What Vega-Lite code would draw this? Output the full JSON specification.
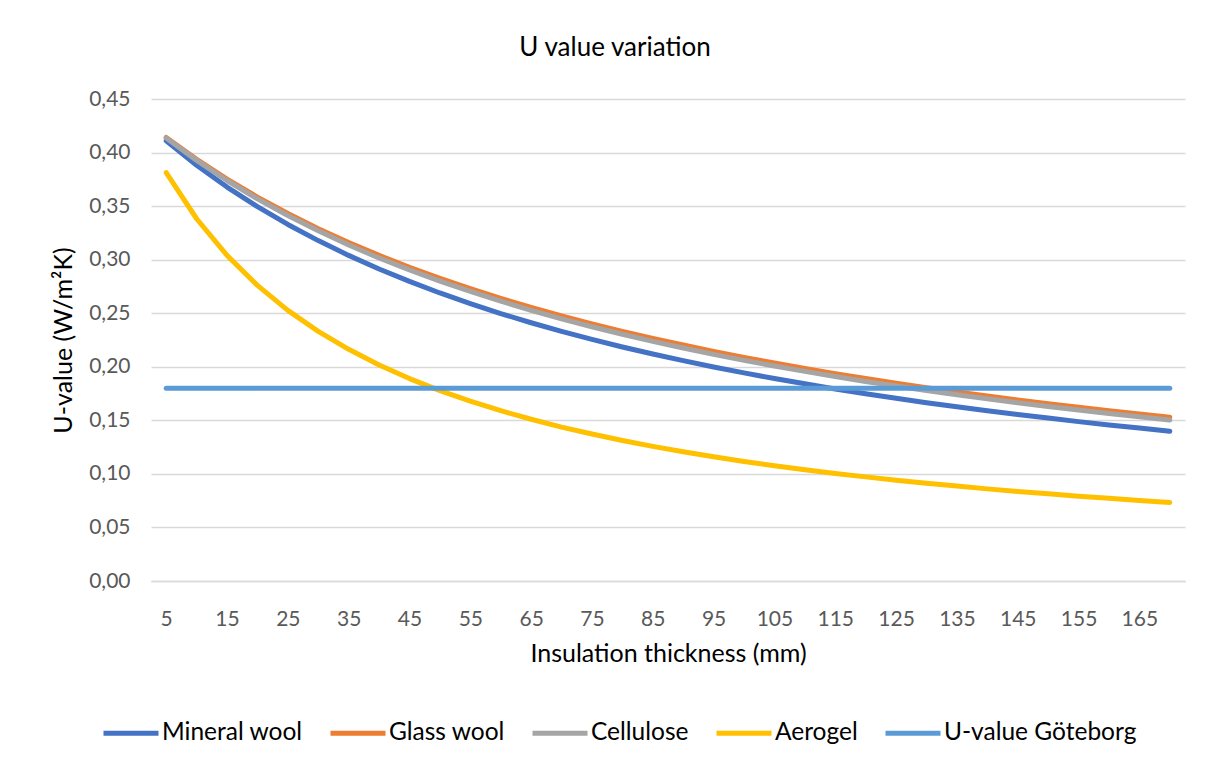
{
  "$schema": "https://vega.github.io/schema/vega-lite/v6.json",
  "width": 1034,
  "height": 482,
  "autosize": {"type": "none"},
  "padding": {"left": 151, "top": 99, "right": 30, "bottom": 179},
  "background": "white",
  "title": {
    "text": "U value variation",
    "font": "Lato",
    "fontSize": 26,
    "fontWeight": "normal",
    "color": "#000000",
    "anchor": "middle",
    "baseline": "alphabetic",
    "offset": 6,
    "dx": -53
  },
  "data": {
    "values": [
      {"t": 5, "Mineral wool": 0.4110, "Glass wool": 0.4141, "Cellulose": 0.4135, "Aerogel": 0.3812, "U-value Göteborg": 0.18},
      {"t": 10, "Mineral wool": 0.3882, "Glass wool": 0.3937, "Cellulose": 0.3927, "Aerogel": 0.3382, "U-value Göteborg": 0.18},
      {"t": 15, "Mineral wool": 0.3678, "Glass wool": 0.3752, "Cellulose": 0.3739, "Aerogel": 0.3040, "U-value Göteborg": 0.18},
      {"t": 20, "Mineral wool": 0.3495, "Glass wool": 0.3584, "Cellulose": 0.3568, "Aerogel": 0.2760, "U-value Göteborg": 0.18},
      {"t": 25, "Mineral wool": 0.3329, "Glass wool": 0.3431, "Cellulose": 0.3412, "Aerogel": 0.2527, "U-value Göteborg": 0.18},
      {"t": 30, "Mineral wool": 0.3178, "Glass wool": 0.3289, "Cellulose": 0.3269, "Aerogel": 0.2331, "U-value Göteborg": 0.18},
      {"t": 35, "Mineral wool": 0.3040, "Glass wool": 0.3160, "Cellulose": 0.3137, "Aerogel": 0.2163, "U-value Göteborg": 0.18},
      {"t": 40, "Mineral wool": 0.2913, "Glass wool": 0.3040, "Cellulose": 0.3016, "Aerogel": 0.2017, "U-value Göteborg": 0.18},
      {"t": 45, "Mineral wool": 0.2797, "Glass wool": 0.2928, "Cellulose": 0.2904, "Aerogel": 0.1890, "U-value Göteborg": 0.18},
      {"t": 50, "Mineral wool": 0.2689, "Glass wool": 0.2825, "Cellulose": 0.2800, "Aerogel": 0.1778, "U-value Göteborg": 0.18},
      {"t": 55, "Mineral wool": 0.2590, "Glass wool": 0.2729, "Cellulose": 0.2703, "Aerogel": 0.1679, "U-value Göteborg": 0.18},
      {"t": 60, "Mineral wool": 0.2497, "Glass wool": 0.2639, "Cellulose": 0.2612, "Aerogel": 0.1590, "U-value Göteborg": 0.18},
      {"t": 65, "Mineral wool": 0.2411, "Glass wool": 0.2554, "Cellulose": 0.2527, "Aerogel": 0.1510, "U-value Göteborg": 0.18},
      {"t": 70, "Mineral wool": 0.2331, "Glass wool": 0.2475, "Cellulose": 0.2448, "Aerogel": 0.1437, "U-value Göteborg": 0.18},
      {"t": 75, "Mineral wool": 0.2256, "Glass wool": 0.2401, "Cellulose": 0.2374, "Aerogel": 0.1372, "U-value Göteborg": 0.18},
      {"t": 80, "Mineral wool": 0.2185, "Glass wool": 0.2331, "Cellulose": 0.2304, "Aerogel": 0.1312, "U-value Göteborg": 0.18},
      {"t": 85, "Mineral wool": 0.2119, "Glass wool": 0.2265, "Cellulose": 0.2237, "Aerogel": 0.1257, "U-value Göteborg": 0.18},
      {"t": 90, "Mineral wool": 0.2057, "Glass wool": 0.2203, "Cellulose": 0.2175, "Aerogel": 0.1206, "U-value Göteborg": 0.18},
      {"t": 95, "Mineral wool": 0.1998, "Glass wool": 0.2144, "Cellulose": 0.2116, "Aerogel": 0.1160, "U-value Göteborg": 0.18},
      {"t": 100, "Mineral wool": 0.1943, "Glass wool": 0.2088, "Cellulose": 0.2060, "Aerogel": 0.1116, "U-value Göteborg": 0.18},
      {"t": 105, "Mineral wool": 0.1890, "Glass wool": 0.2035, "Cellulose": 0.2007, "Aerogel": 0.1076, "U-value Göteborg": 0.18},
      {"t": 110, "Mineral wool": 0.1841, "Glass wool": 0.1984, "Cellulose": 0.1957, "Aerogel": 0.1039, "U-value Göteborg": 0.18},
      {"t": 115, "Mineral wool": 0.1793, "Glass wool": 0.1936, "Cellulose": 0.1909, "Aerogel": 0.1004, "U-value Göteborg": 0.18},
      {"t": 120, "Mineral wool": 0.1749, "Glass wool": 0.1890, "Cellulose": 0.1863, "Aerogel": 0.0972, "U-value Göteborg": 0.18},
      {"t": 125, "Mineral wool": 0.1706, "Glass wool": 0.1847, "Cellulose": 0.1820, "Aerogel": 0.0941, "U-value Göteborg": 0.18},
      {"t": 130, "Mineral wool": 0.1665, "Glass wool": 0.1805, "Cellulose": 0.1778, "Aerogel": 0.0913, "U-value Göteborg": 0.18},
      {"t": 135, "Mineral wool": 0.1627, "Glass wool": 0.1765, "Cellulose": 0.1739, "Aerogel": 0.0886, "U-value Göteborg": 0.18},
      {"t": 140, "Mineral wool": 0.1590, "Glass wool": 0.1727, "Cellulose": 0.1701, "Aerogel": 0.0860, "U-value Göteborg": 0.18},
      {"t": 145, "Mineral wool": 0.1555, "Glass wool": 0.1691, "Cellulose": 0.1665, "Aerogel": 0.0836, "U-value Göteborg": 0.18},
      {"t": 150, "Mineral wool": 0.1521, "Glass wool": 0.1656, "Cellulose": 0.1630, "Aerogel": 0.0814, "U-value Göteborg": 0.18},
      {"t": 155, "Mineral wool": 0.1488, "Glass wool": 0.1622, "Cellulose": 0.1596, "Aerogel": 0.0792, "U-value Göteborg": 0.18},
      {"t": 160, "Mineral wool": 0.1457, "Glass wool": 0.1590, "Cellulose": 0.1564, "Aerogel": 0.0772, "U-value Göteborg": 0.18},
      {"t": 165, "Mineral wool": 0.1428, "Glass wool": 0.1559, "Cellulose": 0.1534, "Aerogel": 0.0752, "U-value Göteborg": 0.18},
      {"t": 170, "Mineral wool": 0.1399, "Glass wool": 0.1529, "Cellulose": 0.1504, "Aerogel": 0.0734, "U-value Göteborg": 0.18}
    ]
  },
  "transform": [
    {"fold": ["Mineral wool", "Glass wool", "Cellulose", "Aerogel", "U-value Göteborg"], "as": ["material", "U"]}
  ],
  "mark": {"type": "line", "strokeWidth": 5, "strokeCap": "round", "strokeJoin": "round"},
  "encoding": {
    "x": {
      "field": "t",
      "type": "ordinal",
      "sort": null,
      "scale": {"type": "point", "padding": 0.5},
      "axis": {
        "title": "Insulation thickness (mm)",
        "values": [5, 15, 25, 35, 45, 55, 65, 75, 85, 95, 105, 115, 125, 135, 145, 155, 165],
        "labelAngle": 0,
        "ticks": false,
        "grid": false,
        "domain": true,
        "domainColor": "#D9D9D9",
        "domainWidth": 1.3,
        "labelPadding": 27,
        "titlePadding": 12
      }
    },
    "y": {
      "field": "U",
      "type": "quantitative",
      "scale": {"domain": [0, 0.45], "nice": false, "zero": true},
      "axis": {
        "title": "U-value (W/m²K)",
        "values": [0, 0.05, 0.1, 0.15, 0.2, 0.25, 0.3, 0.35, 0.4, 0.45],
        "labelExpr": "replace(format(datum.value, '.2f'), '.', ',')",
        "ticks": false,
        "domain": false,
        "grid": true,
        "gridColor": "#D9D9D9",
        "gridWidth": 1.3,
        "labelPadding": 21,
        "titlePadding": 12
      }
    },
    "color": {
      "field": "material",
      "type": "nominal",
      "sort": ["Mineral wool", "Glass wool", "Cellulose", "Aerogel", "U-value Göteborg"],
      "scale": {
        "domain": ["Mineral wool", "Glass wool", "Cellulose", "Aerogel", "U-value Göteborg"],
        "range": ["#4472C4", "#ED7D31", "#A5A5A5", "#FFC000", "#5B9BD5"]
      },
      "legend": {
        "title": null,
        "orient": "none",
        "direction": "horizontal",
        "legendX": -50,
        "legendY": 604,
        "symbolType": "stroke",
        "symbolSize": 3025,
        "symbolStrokeWidth": 5,
        "labelOffset": 1,
        "columnPadding": 17,
        "padding": 0
      }
    }
  },
  "config": {
    "view": {"stroke": null},
    "axis": {
      "labelFont": "Lato",
      "labelFontSize": 21,
      "labelColor": "#595959",
      "titleFont": "Lato",
      "titleFontSize": 25,
      "titleFontWeight": "normal",
      "titleColor": "#000000"
    },
    "legend": {
      "labelFont": "Lato",
      "labelFontSize": 24.5,
      "labelColor": "#000000",
      "labelLimit": 400
    }
  }
}
